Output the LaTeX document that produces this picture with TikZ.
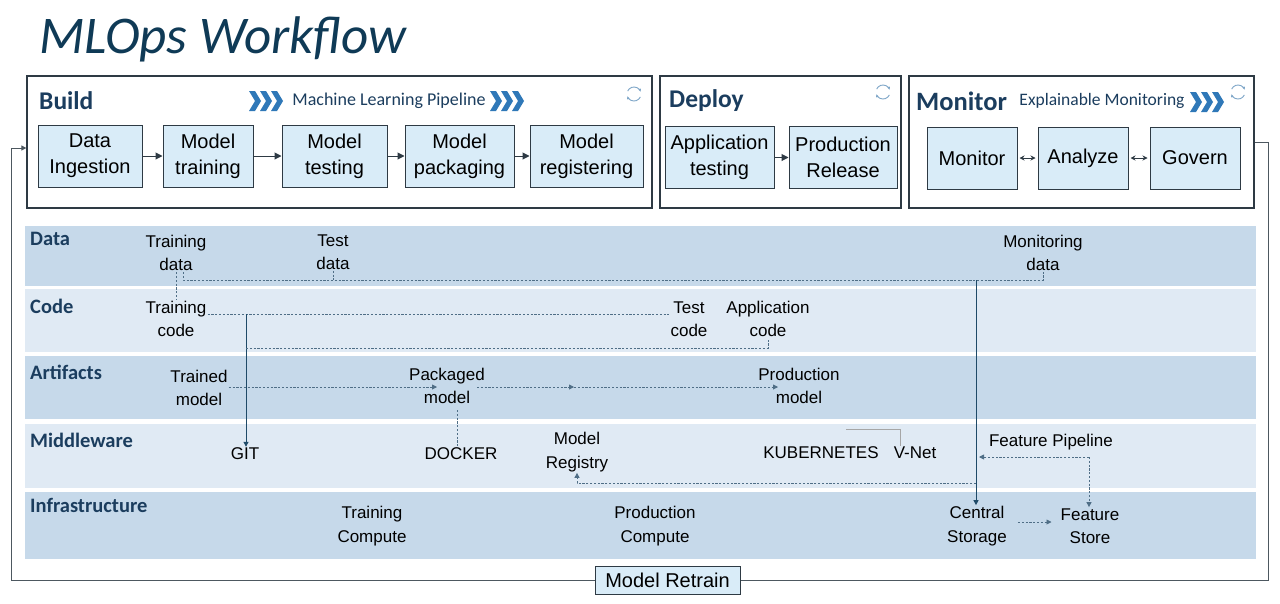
\documentclass[tikz,border=0pt]{standalone}
\usepackage{fontspec}
\setmainfont{Carlito}
\newfontfamily\ar{Liberation Sans}
\usetikzlibrary{arrows.meta}
\definecolor{navy}{HTML}{0F3A56}
\definecolor{head}{HTML}{1B3D5E}
\definecolor{bandA}{HTML}{C6D9EA}
\definecolor{bandB}{HTML}{E0EAF4}
\definecolor{boxfill}{HTML}{D9ECF8}
\definecolor{frame}{HTML}{2E3A44}
\definecolor{chev}{HTML}{2F78B8}
\definecolor{dashc}{HTML}{4F6E86}
\definecolor{arrowc}{HTML}{1F4A68}
\definecolor{iconc}{HTML}{7EA6C8}
\begin{document}
\begin{tikzpicture}[x=1pt,y=-1pt,
  stage/.style={draw=frame, line width=1.3pt, fill=white, inner sep=0pt},
  proc/.style={draw=frame, line width=1pt, fill=boxfill, font=\ar\fontsize{20}{26}\selectfont, align=center, inner sep=0pt, minimum height=62pt},
  item/.style={font=\ar\fontsize{17}{23.5}\selectfont, align=center, inner sep=1pt, text=black},
  lane/.style={font=\bfseries\fontsize{20.5}{22}\selectfont, text=head, anchor=west, inner sep=0pt},
  heading/.style={font=\bfseries\fontsize{25.5}{28}\selectfont, text=head, anchor=west, inner sep=0pt},
  sub/.style={font=\fontsize{18}{20}\selectfont, text=head, inner sep=0pt},
  dsh/.style={draw=dashc, dash pattern=on 2.2pt off 1.6pt, line width=0.9pt},
  sol/.style={draw=arrowc, line width=1pt},
  tip/.style={-{Triangle[length=5pt,width=5pt]}},
  bigtip/.style={-{Triangle[length=7pt,width=7pt]}},
  loopl/.style={draw=frame!85, line width=1pt},
  chevrons/.pic={\foreach \i in {0,11,22} {\fill[chev,xshift=\i pt] (0,-10) -- (6,-10) -- (12,0) -- (6,10) -- (0,10) -- (6,0) -- cycle;}},
  refresh/.pic={\draw[iconc, line width=0.9pt, -{Stealth[length=3pt,width=3pt]}] (25:7) arc (25:160:7);
                \draw[iconc, line width=0.9pt, -{Stealth[length=3pt,width=3pt]}] (205:7) arc (205:340:7);}
]
\useasboundingbox (0,0) rectangle (1280,603);
\fill[white] (0,0) rectangle (1280,603);

% title
\node[anchor=base west, inner sep=0pt, font=\itshape\fontsize{53}{56}\selectfont, text=navy] (title) at (39,53) {MLOps Workflow};

% stage frames
\node[stage, minimum width=625pt, minimum height=132pt] (build) at (339.5,142) {};
\node[stage, minimum width=241pt, minimum height=132pt] (deploy) at (780.5,142) {};
\node[stage, minimum width=345pt, minimum height=132pt] (monbox) at (1081.5,142) {};

\node[heading] (hbuild) at (39,101) {Build};
\node[heading] (hdeploy) at (669,101) {Deploy};
\node[heading, font=\bfseries\fontsize{26.5}{28}\selectfont] (hmon) at (916,101) {Monitor};
\node[sub] (mlp) at (389,101) {Machine Learning Pipeline};
\node[sub, font=\fontsize{17.5}{20}\selectfont] (expl) at (1102,101) {Explainable Monitoring};
\pic at (249,101) {chevrons};
\pic at (490,101) {chevrons};
\pic at (1190,102) {chevrons};
\pic at (634,94) {refresh};
\pic at (883,92) {refresh};
\pic at (1238,92) {refresh};

% build process
\node[proc, minimum width=104pt] (ingest) at (90,156) {Data\\Ingestion};
\node[proc, minimum width=90pt] (train) at (208,156) {Model\\training};
\node[proc, minimum width=105pt] (mtest) at (334.5,156) {Model\\testing};
\node[proc, minimum width=109pt] (pack) at (459.5,156) {Model\\packaging};
\node[proc, minimum width=113pt] (reg) at (586.5,156) {Model\\registering};
\foreach \a/\b in {ingest/train, train/mtest, mtest/pack, pack/reg}
  \draw[sol, bigtip, draw=frame] (\a.east) -- (\b.west);

% deploy process
\node[proc, minimum width=109pt] (apptest) at (719.5,157.5) {Application\\testing};
\node[proc, minimum width=108pt] (prodrel) at (843,157.5) {Production\\Release};
\draw[sol, bigtip, draw=frame] (apptest.east) -- (prodrel.west);

% monitor process
\node[proc, minimum width=90pt] (mon) at (972,158) {Monitor};
\node[proc, minimum width=90pt] (ana) at (1083,158) {Analyze};
\node[proc, minimum width=90pt] (gov) at (1195,158) {Govern};
\draw[sol, draw=frame, {Stealth[length=5pt,width=5pt]}-{Stealth[length=5pt,width=5pt]}, shorten <=2pt, shorten >=2pt] (mon.east) -- (ana.west);
\draw[sol, draw=frame, {Stealth[length=5pt,width=5pt]}-{Stealth[length=5pt,width=5pt]}, shorten <=2pt, shorten >=2pt] (ana.east) -- (gov.west);

% lanes
\fill[bandA] (25,226) rectangle (1256,286);
\fill[bandB] (25,289) rectangle (1256,352);
\fill[bandA] (25,356) rectangle (1256,419);
\fill[bandB] (25,424) rectangle (1256,488);
\fill[bandA] (25,492) rectangle (1256,559);

\node[lane] (ldata) at (30,239) {Data};
\node[lane] (lcode) at (30,306) {Code};
\node[lane] (lart) at (30,372) {Artifacts};
\node[lane] (lmid) at (30,440) {Middleware};
\node[lane] (linf) at (30,505) {Infrastructure};

% lane items
\node[item] (tdata) at (176,253) {Training\\data};
\node[item] (testd) at (333,252) {Test\\data};
\node[item] (mdata) at (1043,253) {Monitoring\\data};
\node[item] (tcode) at (176,319) {Training\\code};
\node[item] (testc) at (689,319) {Test\\code};
\node[item] (appc) at (768,319) {Application\\code};
\node[item] (trained) at (199,388) {Trained\\model};
\node[item] (packaged) at (447,386) {Packaged\\model};
\node[item] (prodm) at (799,386) {Production\\model};
\node[item] (git) at (245,454) {GIT};
\node[item] (docker) at (461,454) {DOCKER};
\node[item] (mreg) at (577,452) {Model\\Registry};
\node[item] (kube) at (821,453) {KUBERNETES};
\node[item] (vnet) at (915,453) {V-Net};
\node[item] (fpipe) at (1051,442) {Feature Pipeline};
\node[item] (tcomp) at (372,526) {Training\\Compute};
\node[item] (pcomp) at (655,526) {Production\\Compute};
\node[item] (cstore) at (977,526) {Central\\Storage};
\node[item] (fstore) at (1090,526) {Feature\\Store};

% coordinates
\coordinate (dl) at (183,280);
\coordinate (sj) at (976,280);
\coordinate (dr) at (1043,280);
\coordinate (gj) at (246,314);
\coordinate (cl) at (246,348);
\coordinate (pa) at (437,387);
\coordinate (pb) at (477,387);
\coordinate (pm) at (574,387);
\coordinate (pc) at (778,387);
\coordinate (dk) at (457,410);
\coordinate (kb) at (846,429);
\coordinate (rj) at (976,483);
\coordinate (fp) at (1089,457);
\coordinate (fl) at (979,457);

% data connectors
\draw[dsh] ([xshift=7pt]tdata.south) -- (dl) -- (dr) -- (mdata.south);
\draw[dsh] (testd.south) -- (testd.south |- dl);
\draw[dsh] (tdata.south) -- (tcode.north);
\draw[sol, tip] (sj) -- (sj |- cstore.north);

% code connectors
\draw[dsh] ([yshift=5pt]tcode.east) -- ([yshift=5pt]testc.west);
\draw[sol, tip] (gj) -- (gj |- git.north);
\draw[dsh] (cl) -| (appc.south);

% artifacts
\draw[dsh, tip] (trained.east |- pa) -- (pa);
\draw[dsh, tip] (pb) -- (pm);
\draw[dsh, tip] (pm) -- (pc);
\draw[dsh] (dk) -- (dk |- docker.north);

% middleware
\draw[draw=gray!70, line width=0.8pt] (kb) -| ([xshift=-15pt]vnet.north);
\draw[dsh, tip] (rj) -| (mreg.south);
\draw[dsh, tip] (fp) -- (fl);
\draw[dsh, tip] (fp) -- (fp |- fstore.north);
\draw[dsh, tip] ([xshift=10pt,yshift=4pt]cstore.east) -- ([xshift=-8pt,yshift=4pt]fstore.west);

% model retrain loop
\node[draw=frame, line width=1pt, fill=boxfill, font=\ar\fontsize{20}{24}\selectfont, minimum width=145pt, minimum height=28pt, inner sep=0pt] (retrain) at (667.5,580.5) {Model Retrain};
\coordinate (lr1) at (1268,142);
\coordinate (lr2) at (1268,580.5);
\coordinate (ll1) at (11,580.5);
\coordinate (ll2) at (11,148);
\draw[loopl] (monbox.east) -- (lr1) -- (lr2) -- (retrain.east);
\draw[loopl, tip] (retrain.west) -- (ll1) -- (ll2) -- ([yshift=-6pt]build.west);
\end{tikzpicture}
\end{document}
